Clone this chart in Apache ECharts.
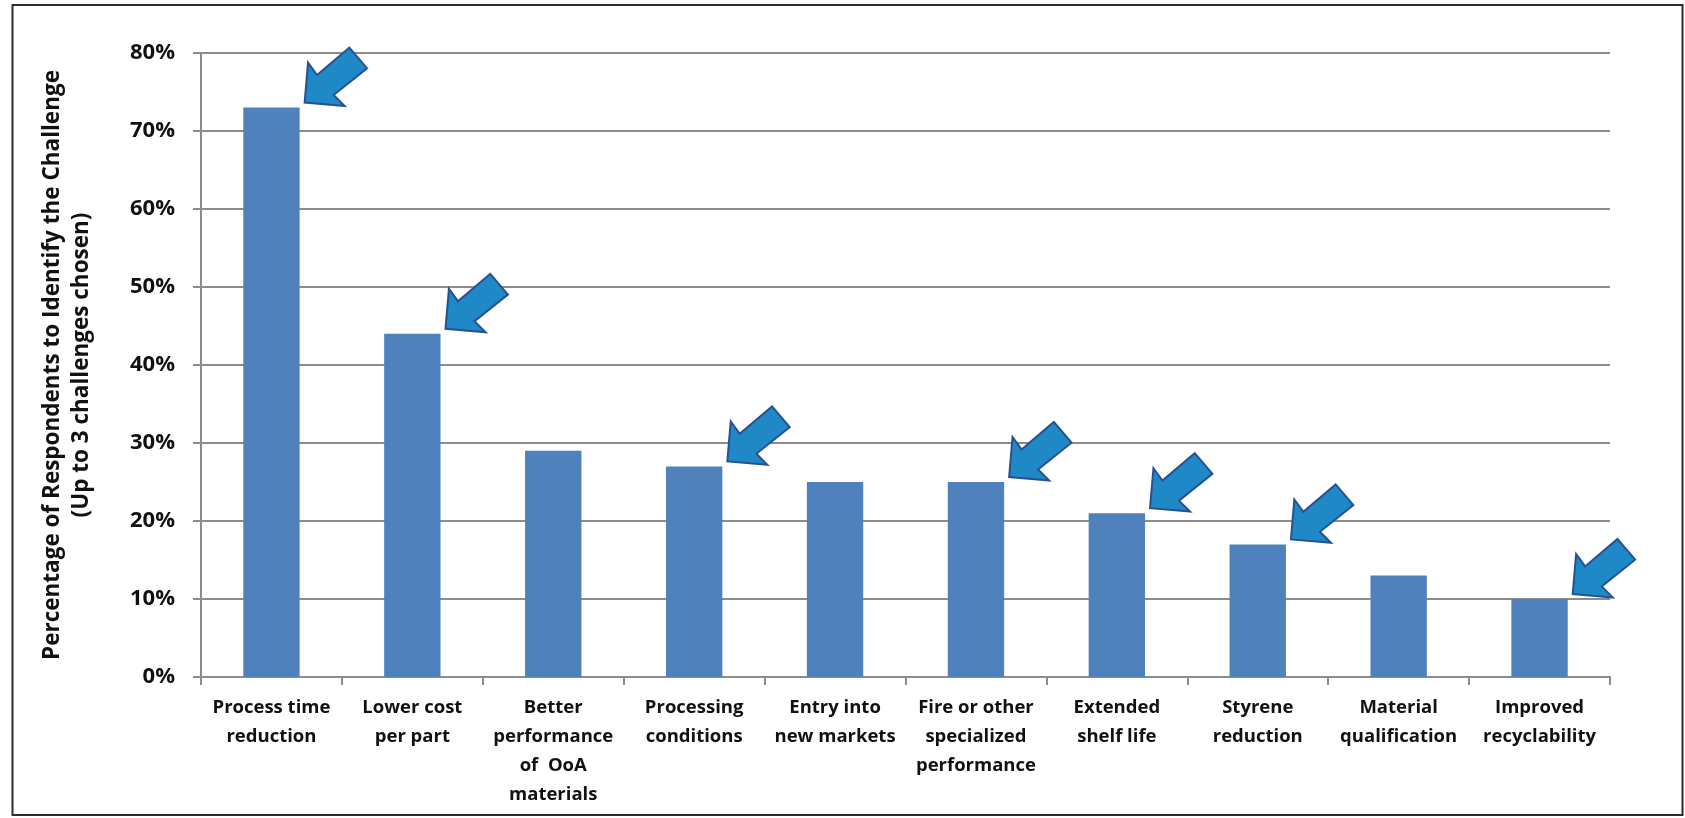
<!DOCTYPE html>
<html>
<head>
<meta charset="utf-8">
<script src="https://cdn.jsdelivr.net/npm/echarts@6/dist/echarts.min.js"></script>
<style>
  html, body { margin: 0; padding: 0; background: #ffffff; }
  #chart { width: 1685px; height: 818px; }
</style>
</head>
<body>
<div id="chart"></div>
<script>
// Challenges named by respondents (up to 3 each), share of respondents in %
const categories = [
  'Process time\nreduction',
  'Lower cost\nper part',
  'Better\nperformance\nof  OoA\nmaterials',
  'Processing\nconditions',
  'Entry into\nnew markets',
  'Fire or other\nspecialized\nperformance',
  'Extended\nshelf life',
  'Styrene\nreduction',
  'Material\nqualification',
  'Improved\nrecyclability'
];
const shares = [73, 44, 29, 27, 25, 25, 21, 17, 13, 10];
// Challenges highlighted with an arrow
const highlighted = [0, 1, 3, 5, 6, 7, 9];
const yTicks = { min: 0, max: 80, step: 10 };

const FONT = '"Open Sans", Lato, sans-serif';
const chart = echarts.init(document.getElementById('chart'), null, { renderer: 'canvas' });

// Block arrow outline, relative to its tip, pointing down-left
const arrowShape = [
  [0, 0], [3.4, -40], [12.4, -27.6], [44.7, -55],
  [62.4, -34.3], [29, -7.6], [40, 3.4]
];

function renderArrow(params, api) {
  const idx = api.value(0);
  const val = api.value(1);
  const p = api.coord([idx, val]);
  const band = api.size([1, 0])[0];
  const tipX = p[0] + band * 0.2 + 5;
  const tipY = p[1] - 5;
  return {
    type: 'polygon',
    shape: { points: arrowShape.map(q => [tipX + q[0], tipY + q[1]]) },
    style: { fill: '#1f88c7', stroke: '#27518f', lineWidth: 2, lineJoin: 'miter' },
    z2: 10
  };
}

const gridColor = '#8c8c8c';

chart.setOption({
  animation: false,
  backgroundColor: '#ffffff',
  graphic: [{
    type: 'rect',
    shape: { x: 12.5, y: 5, width: 1670, height: 810 },
    style: { fill: 'none', stroke: '#2b2b2b', lineWidth: 2 },
    silent: true
  }],
  grid: { left: 201, right: 75, top: 53, bottom: 141, containLabel: false },
  xAxis: {
    type: 'category',
    data: categories,
    axisLine: { show: true, lineStyle: { color: gridColor, width: 2 } },
    axisTick: { show: true, length: 8, alignWithLabel: false, lineStyle: { color: gridColor, width: 2 } },
    axisLabel: {
      interval: 0,
      margin: 16,
      color: '#111111',
      fontFamily: FONT,
      fontWeight: 'bold',
      fontSize: 18.5,
      lineHeight: 29,
      align: 'center'
    },
    splitLine: { show: false }
  },
  yAxis: {
    type: 'value',
    min: yTicks.min,
    max: yTicks.max,
    interval: yTicks.step,
    name: 'Percentage of Respondents to Identify the Challenge\n(Up to 3 challenges chosen)',
    nameLocation: 'middle',
    nameRotate: 90,
    nameGap: 105,
    nameTextStyle: {
      color: '#111111',
      fontFamily: FONT,
      fontWeight: 'bold',
      fontSize: 22.5,
      lineHeight: 29,
      align: 'center'
    },
    axisLine: { show: true, lineStyle: { color: gridColor, width: 2 } },
    axisTick: { show: true, length: 8, lineStyle: { color: gridColor, width: 2 } },
    axisLabel: {
      margin: 26,
      color: '#111111',
      fontFamily: FONT,
      fontWeight: 'bold',
      fontSize: 22,
      formatter: '{value}%'
    },
    splitLine: { show: true, lineStyle: { color: gridColor, width: 2 } }
  },
  series: [
    {
      type: 'bar',
      data: shares,
      barWidth: '40%',
      itemStyle: { color: '#4f81bd' },
      z: 2
    },
    {
      type: 'custom',
      renderItem: renderArrow,
      data: highlighted.map(i => [i, shares[i]]),
      encode: { x: 0, y: 1 },
      clip: false,
      z: 5
    }
  ]
});
</script>
</body>
</html>
